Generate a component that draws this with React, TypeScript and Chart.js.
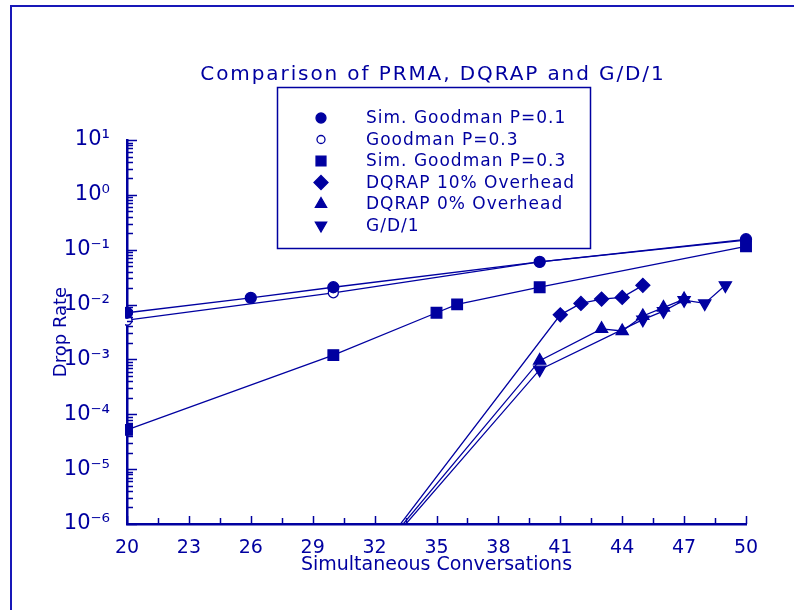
import { useEffect, useRef } from 'react';
import { Chart, registerables } from 'chart.js';

Chart.register(...registerables);

const INK = '#0000A0';
const FONT = "'DejaVu Sans', sans-serif";

const titleText = 'Comparison of PRMA, DQRAP and G/D/1';
const xAxisTitle = 'Simultaneous Conversations';
const yAxisTitle = 'Drop Rate';

const xTickLabels = [20, 23, 26, 29, 32, 35, 38, 41, 44, 47, 50];
const xMinorStep = 1.5;
const yTickExponents = [-6, -5, -4, -3, -2, -1, 0, 1];

const seriesLabels = [
  'Sim. Goodman P=0.1',
  'Goodman P=0.3',
  'Sim. Goodman P=0.3',
  'DQRAP 10% Overhead',
  'DQRAP 0% Overhead',
  'G/D/1',
];

const simGoodman01X = [20, 26, 30, 40, 50];
const simGoodman01Y = [0.0071, 0.0133, 0.0207, 0.06, 0.155];
const goodman03X = [20, 30, 40, 50];
const goodman03Y = [0.0052, 0.0164, 0.06, 0.15];
const simGoodman03X = [20, 30, 35, 36, 40, 50];
const simGoodman03Y = [5.2e-5, 1.2e-3, 0.0071, 0.0101, 0.0207, 0.115];
const dqrap10X = [30, 41, 42, 43, 44, 45];
const dqrap10Y = [2.5e-8, 0.0065, 0.0105, 0.0126, 0.0135, 0.0224];
const dqrap0X = [30, 40, 43, 44, 45, 46, 47];
const dqrap0Y = [3e-8, 9.5e-4, 0.0036, 0.0033, 0.0062, 0.0088, 0.0126];
const gd1X = [30, 40, 45, 46, 47, 48, 49];
const gd1Y = [3e-8, 6.5e-4, 0.0053, 0.0076, 0.012, 0.0105, 0.0224];

type Marker = { style: string; radius: number; fill: string; rotation: number };
const markers: Marker[] = [
  { style: 'circle', radius: 5.5, fill: INK, rotation: 0 },
  { style: 'circle', radius: 5, fill: '#ffffff', rotation: 0 },
  { style: 'rect', radius: 7.5, fill: INK, rotation: 0 },
  { style: 'rectRot', radius: 7, fill: INK, rotation: 0 },
  { style: 'triangle', radius: 7, fill: INK, rotation: 0 },
  { style: 'triangle', radius: 7, fill: INK, rotation: 180 },
];
const seriesX = [simGoodman01X, goodman03X, simGoodman03X, dqrap10X, dqrap0X, gd1X];
const seriesY = [simGoodman01Y, goodman03Y, simGoodman03Y, dqrap10Y, dqrap0Y, gd1Y];

const SUP: Record<string, string> = {
  '0': '\u2070', '1': '\u00B9', '2': '\u00B2', '3': '\u00B3', '4': '\u2074',
  '5': '\u2075', '6': '\u2076', '7': '\u2077', '8': '\u2078', '9': '\u2079', '-': '\u207B',
};
const sup = (n: number) => String(n).split('').map((c) => SUP[c] || c).join('');
const isPow10 = (v: number) => Math.abs(Math.log10(v) - Math.round(Math.log10(v))) < 1e-9;

function drawMarker(ctx: CanvasRenderingContext2D, m: Marker, x: number, y: number, r: number) {
  ctx.save();
  ctx.fillStyle = m.fill;
  ctx.strokeStyle = INK;
  ctx.lineWidth = 1.3;
  ctx.beginPath();
  if (m.style === 'circle') {
    ctx.arc(x, y, r, 0, Math.PI * 2);
  } else if (m.style === 'rect') {
    const s = r * Math.SQRT1_2;
    ctx.rect(x - s, y - s, 2 * s, 2 * s);
  } else if (m.style === 'rectRot') {
    ctx.moveTo(x, y - r);
    ctx.lineTo(x + r, y);
    ctx.lineTo(x, y + r);
    ctx.lineTo(x - r, y);
    ctx.closePath();
  } else {
    const dir = m.rotation === 180 ? -1 : 1;
    ctx.moveTo(x, y - dir * r);
    ctx.lineTo(x + r * Math.sin(Math.PI / 3), y + dir * r * 0.5);
    ctx.lineTo(x - r * Math.sin(Math.PI / 3), y + dir * r * 0.5);
    ctx.closePath();
  }
  ctx.fill();
  ctx.stroke();
  ctx.restore();
}

const decorPlugin = {
  id: 'decor',
  afterDatasetsDraw(chart: any) {
    const { ctx, chartArea, scales } = chart;
    const xs = scales.x;
    const ys = scales.y;
    ctx.save();
    ctx.strokeStyle = INK;
    ctx.lineWidth = 1.5;
    ys.ticks.forEach((t: any) => {
      const py = Math.round(ys.getPixelForValue(t.value)) + 0.5;
      const len = isPow10(t.value) ? 10 : 6;
      ctx.beginPath();
      ctx.moveTo(chartArea.left, py);
      ctx.lineTo(chartArea.left + len, py);
      ctx.stroke();
    });
    xs.ticks.forEach((t: any) => {
      const px = Math.round(xs.getPixelForValue(t.value)) + 0.5;
      const len = xTickLabels.includes(t.value) ? 8 : 6;
      ctx.beginPath();
      ctx.moveTo(px, chartArea.bottom);
      ctx.lineTo(px, chartArea.bottom - len);
      ctx.stroke();
    });
    ctx.restore();
  },
  afterDraw(chart: any) {
    const { ctx } = chart;
    ctx.save();
    // outer frame (top and left)
    ctx.strokeStyle = '#1818B8';
    ctx.lineWidth = 2;
    ctx.beginPath();
    ctx.moveTo(11, 612);
    ctx.lineTo(11, 6);
    ctx.lineTo(800, 6);
    ctx.stroke();
    // title
    ctx.fillStyle = INK;
    ctx.font = `20px ${FONT}`;
    (ctx as any).letterSpacing = '1.9px';
    ctx.textAlign = 'center';
    ctx.textBaseline = 'alphabetic';
    ctx.fillText(titleText, 433, 80);
    // legend box
    ctx.strokeStyle = INK;
    ctx.lineWidth = 1.5;
    ctx.fillStyle = '#ffffff';
    ctx.fillRect(277, 87, 313, 161);
    ctx.strokeRect(277.5, 87.5, 313, 161);
    ctx.font = `17px ${FONT}`;
    (ctx as any).letterSpacing = '1px';
    ctx.textAlign = 'left';
    ctx.textBaseline = 'middle';
    seriesLabels.forEach((label, i) => {
      const y = 118 + i * 21.5;
      const m = markers[i];
      drawMarker(ctx, m, 321, y, m.style === 'circle' ? (i === 1 ? 4 : 5) : m.style === 'rect' ? 7 : m.style === 'rectRot' ? 7 : 6.5);
      ctx.fillStyle = INK;
      ctx.fillText(label, 366, y + 1);
    });
    (ctx as any).letterSpacing = '0px';
    ctx.restore();
  },
};

export default function App() {
  const ref = useRef<HTMLCanvasElement | null>(null);
  useEffect(() => {
    if (!ref.current) return;
    const datasets = seriesLabels.map((label, i) => ({
      label,
      data: seriesX[i].map((x, j) => ({ x, y: seriesY[i][j] })),
      borderColor: INK,
      borderWidth: 1.3,
      backgroundColor: markers[i].fill,
      pointStyle: markers[i].style,
      pointRadius: markers[i].radius,
      pointRotation: markers[i].rotation,
      pointBackgroundColor: markers[i].fill,
      pointBorderColor: INK,
      pointBorderWidth: 1.3,
      showLine: true,
      tension: 0,
      clip: { left: 2, top: 12, right: 12, bottom: 0 },
    }));
    const chart = new Chart(ref.current, {
      type: 'scatter',
      data: { datasets },
      plugins: [decorPlugin],
      options: {
        responsive: false,
        animation: false,
        devicePixelRatio: 1,
        layout: { padding: { top: 140, right: 48, left: 0, bottom: 0 } },
        plugins: {
          legend: { display: false },
          title: { display: false },
          tooltip: { enabled: false },
        },
        scales: {
          x: {
            type: 'linear',
            min: 20,
            max: 50,
            grid: { display: false },
            border: { display: true, color: INK, width: 2.5 },
            afterBuildTicks: (scale: any) => {
              const ticks: any[] = [];
              xTickLabels.forEach((v, i) => {
                ticks.push({ value: v });
                if (i < xTickLabels.length - 1) ticks.push({ value: v + xMinorStep });
              });
              scale.ticks = ticks;
            },
            afterFit: (scale: any) => {
              scale.height = 86;
            },
            ticks: {
              autoSkip: false,
              maxRotation: 0,
              padding: 5,
              color: INK,
              font: { family: FONT, size: 19 },
              callback: (v: any) => (xTickLabels.includes(v) ? String(v) : ''),
            },
            title: {
              display: true,
              text: xAxisTitle,
              color: INK,
              font: { family: FONT, size: 19 },
              padding: { top: 0, bottom: 34 },
            },
          },
          y: {
            type: 'logarithmic',
            min: 1e-6,
            max: 10,
            grid: { display: false },
            border: { display: true, color: INK, width: 2.5 },
            afterBuildTicks: (scale: any) => {
              const ticks: any[] = [];
              yTickExponents.forEach((e, i) => {
                if (i === yTickExponents.length - 1) {
                  ticks.push({ value: Math.pow(10, e) });
                } else {
                  for (let k = 1; k <= 9; k++) ticks.push({ value: k * Math.pow(10, e) });
                }
              });
              scale.ticks = ticks;
            },
            afterFit: (scale: any) => {
              scale.width = 127;
            },
            ticks: {
              autoSkip: false,
              padding: 9,
              color: INK,
              font: { family: FONT, size: 21 },
              callback: (v: any) => (isPow10(v) ? '10' + sup(Math.round(Math.log10(v))) : ''),
            },
            title: {
              display: true,
              text: yAxisTitle,
              color: INK,
              font: { family: FONT, size: 18 },
              padding: { top: 51, bottom: 0 },
            },
          },
        },
      } as any,
    });
    return () => chart.destroy();
  }, []);
  return (
    <div style={{ position: 'absolute', left: 0, top: 0, width: 794, height: 610, background: '#fff' }}>
      <canvas ref={ref} width={794} height={610} style={{ display: 'block', width: 794, height: 610 }} />
    </div>
  );
}
